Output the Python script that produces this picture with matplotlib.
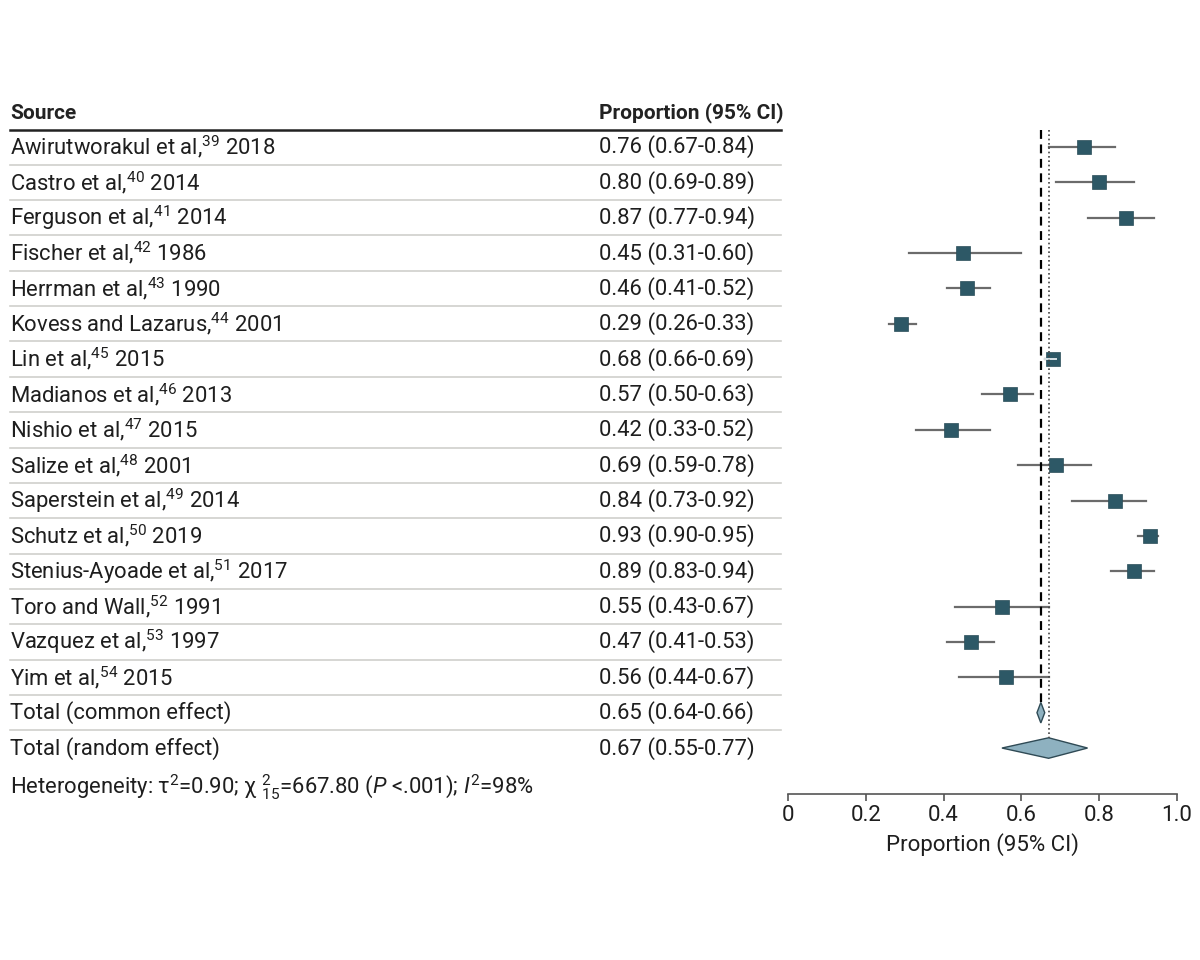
import matplotlib
matplotlib.use("Agg")
import matplotlib.pyplot as plt
from matplotlib.transforms import blended_transform_factory
from matplotlib.patches import Polygon

plt.rcParams['font.family'] = ['Roboto', 'DejaVu Sans']
plt.rcParams['mathtext.fontset'] = 'custom'
plt.rcParams['mathtext.rm'] = 'Roboto'
plt.rcParams['mathtext.it'] = 'Roboto:italic'

# Данные
studies = ["Awirutworakul et al,", "Castro et al,", "Ferguson et al,", "Fischer et al,",
           "Herrman et al,", "Kovess and Lazarus,", "Lin et al,", "Madianos et al,",
           "Nishio et al,", "Salize et al,", "Saperstein et al,", "Schutz et al,",
           "Stenius-Ayoade et al,", "Toro and Wall,", "Vazquez et al,", "Yim et al,"]
refs = [39, 40, 41, 42, 43, 44, 45, 46, 47, 48, 49, 50, 51, 52, 53, 54]
years = [2018, 2014, 2014, 1986, 1990, 2001, 2015, 2013, 2015, 2001, 2014, 2019,
         2017, 1991, 1997, 2015]
est = [0.76, 0.80, 0.87, 0.45, 0.46, 0.29, 0.68, 0.57, 0.42, 0.69, 0.84, 0.93,
       0.89, 0.55, 0.47, 0.56]
lo = [0.67, 0.69, 0.77, 0.31, 0.41, 0.26, 0.66, 0.50, 0.33, 0.59, 0.73, 0.90,
      0.83, 0.43, 0.41, 0.44]
hi = [0.84, 0.89, 0.94, 0.60, 0.52, 0.33, 0.69, 0.63, 0.52, 0.78, 0.92, 0.95,
      0.94, 0.67, 0.53, 0.67]
pooled_names = ["Total (common effect)", "Total (random effect)"]
pooled_est = [0.65, 0.67]
pooled_lo = [0.64, 0.55]
pooled_hi = [0.66, 0.77]
xticks = [0, 0.2, 0.4, 0.6, 0.8, 1.0]
xticklabels = ["0", "0.2", "0.4", "0.6", "0.8", "1.0"]

W, H = 1200, 960
fig = plt.figure(figsize=(12, 9.6), dpi=100)
ax = fig.add_axes([788 / W, (H - 794) / H, (1177 - 788) / W, (794 - 130) / H])
n = len(studies)
ax.set_xlim(0, 1.0)
ax.set_ylim(18.30, -0.48)

sq_col = '#2d5866'
ci_col = '#6b6b6b'
dia_col = '#8eb1c0'
dia_edge = '#2f4a55'
txt_col = '#1e1e1e'

# Исследования
for i in range(n):
    inside = (hi[i] - lo[i]) < 0.036
    ax.plot([lo[i], hi[i]], [i, i], color=ci_col, lw=1.6, zorder=2)
    ax.plot(est[i], i, marker='s', ms=10.5, color=sq_col, mec='#2a4d58', mew=0.5, zorder=3)
    if inside:
        ax.plot([lo[i], hi[i]], [i, i], color='#d8e2e6', lw=1.4, zorder=4)

# Ромбы
hh = 0.29
for k in range(2):
    y = n + k
    poly = Polygon([[pooled_lo[k], y], [pooled_est[k], y - hh], [pooled_hi[k], y],
                    [pooled_est[k], y + hh]], closed=True, fc=dia_col, ec=dia_edge,
                   lw=1.0, zorder=3)
    ax.add_patch(poly)

ax.plot([pooled_est[0], pooled_est[0]], [-0.48, n - hh], color='black', lw=1.6,
        ls=(0, (4, 2.5)), zorder=5)
ax.plot([pooled_est[1], pooled_est[1]], [-0.48, n + 1 - hh], color='#444444', lw=1.2,
        ls=(0, (1, 1.6)), zorder=5)

# Ось
for s in ['top', 'right', 'left']:
    ax.spines[s].set_visible(False)
ax.spines['bottom'].set_color('#555555')
ax.spines['bottom'].set_linewidth(1.2)
ax.set_yticks([])
ax.set_xticks(xticks)
ax.set_xticklabels(xticklabels, fontsize=16, color=txt_col)
ax.tick_params(axis='x', length=5, width=1.2, color='#555555', pad=3)
ax.set_xlabel("Proportion (95% CI)", fontsize=16, color=txt_col, labelpad=5)

# Таблица
tr = blended_transform_factory(fig.transFigure, ax.transData)
x1 = 10 / W
x2 = 599 / W
xr = 781 / W
fs = 15.8
ax.text(x1, -0.96, "Source", transform=tr, fontsize=15, fontweight='bold',
        va='center', ha='left', color='#222222', clip_on=False)
ax.text(x2, -0.96, "Proportion (95% CI)", transform=tr, fontsize=15, fontweight='bold',
        va='center', ha='left', color='#222222', clip_on=False)
ax.plot([x1, xr], [-0.48, -0.48], transform=tr, color='#222222', lw=1.8, clip_on=False)

for i in range(n):
    label = studies[i] + "$^{" + str(refs[i]) + "}$ " + str(years[i])
    ax.text(x1, i, label, transform=tr, fontsize=fs, va='center', ha='left',
            color=txt_col, clip_on=False)
    ax.text(x2, i, "%.2f (%.2f-%.2f)" % (est[i], lo[i], hi[i]), transform=tr,
            fontsize=fs, va='center', ha='left', color=txt_col, clip_on=False)
for k in range(2):
    y = n + k
    ax.text(x1, y, pooled_names[k], transform=tr, fontsize=fs, va='center', ha='left',
            color=txt_col, clip_on=False)
    ax.text(x2, y, "%.2f (%.2f-%.2f)" % (pooled_est[k], pooled_lo[k], pooled_hi[k]),
            transform=tr, fontsize=fs, va='center', ha='left', color=txt_col, clip_on=False)

for i in range(n + 1):
    ax.plot([x1, xr], [i + 0.5, i + 0.5], transform=tr, color='#d0d0cc', lw=1.2,
            clip_on=False)

ax.text(x1, n + 2.1, r"Heterogeneity: τ$^2$=0.90; χ ${}^{2}_{15}$=667.80 ($\mathit{P}$ <.001); $\mathit{I}^2$=98%",
        transform=tr, fontsize=fs, va='center', ha='left', color=txt_col, clip_on=False)

fig.savefig("out.png", dpi=100, facecolor='white')
